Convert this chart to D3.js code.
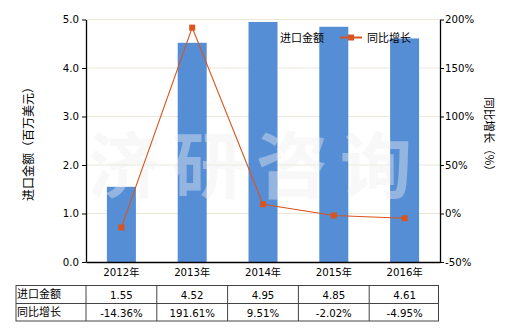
<!DOCTYPE html>
<html><head><meta charset="utf-8">
<script src="https://cdn.jsdelivr.net/npm/d3@7"></script>
<style>
body{margin:0;background:#fff;}
text{font-family:"DejaVu Sans","Noto Sans CJK SC",sans-serif;}
</style></head>
<body><svg id="c" width="520" height="330"></svg>
<script>
const categories = ["2012年","2013年","2014年","2015年","2016年"];
const importValues = [1.55, 4.52, 4.95, 4.85, 4.61];
const growthValues = [-14.36, 191.61, 9.51, -2.02, -4.95];
const importLabels = ["1.55","4.52","4.95","4.85","4.61"];
const growthLabels = ["-14.36%","191.61%","9.51%","-2.02%","-4.95%"];
const leftTicks = [0,1,2,3,4,5];
const rightTicks = [-50,0,50,100,150,200];
const seriesNames = ["进口金额","同比增长"];

const svg = d3.select("#c");
const L = 86, R = 440, T = 19.5, B = 262;
const barColor = "#558ed5", lineColor = "#d9541e", gridColor = "#ebe8d8";
const fs = "10.2px";

const xc = d3.scaleBand().domain(categories).range([L, R]);
const yL = d3.scaleLinear().domain([0,5]).range([B, T]);
const yR = d3.scaleLinear().domain([-50,200]).range([B, T]);

// gridlines
svg.append("g").selectAll("line").data(leftTicks.slice(1)).join("line")
  .attr("x1", L).attr("x2", R).attr("y1", d=>yL(d)).attr("y2", d=>yL(d))
  .attr("stroke", gridColor).attr("stroke-width", 1);

// bars
svg.append("g").selectAll("rect").data(importValues).join("rect")
  .attr("x", (d,i)=>xc(categories[i]) + xc.bandwidth()/2 - 14.5)
  .attr("width", 29)
  .attr("y", d=>yL(d)).attr("height", d=>B - yL(d))
  .attr("fill", barColor);

// watermark
svg.append("text").text("济研咨询")
  .attr("x", 256).attr("y", 192).attr("text-anchor","middle")
  .attr("font-size", "72px").attr("font-weight","bold")
  .attr("letter-spacing", "12px")
  .style("font-family","'Noto Sans CJK SC'")
  .attr("fill", "#f0f0f0").attr("opacity", 0.4);

// line
const line = d3.line().x((d,i)=>xc(categories[i]) + xc.bandwidth()/2).y(d=>yR(d));
svg.append("path").datum(growthValues).attr("d", line)
  .attr("fill","none").attr("stroke", lineColor).attr("stroke-width", 1.1);
svg.append("g").selectAll("rect").data(growthValues).join("rect")
  .attr("x", (d,i)=>xc(categories[i]) + xc.bandwidth()/2 - 3)
  .attr("y", d=>yR(d) - 3).attr("width", 6).attr("height", 6)
  .attr("fill", lineColor);

// axes
const axL = d3.axisLeft(yL).tickValues(leftTicks).tickFormat(d3.format(".1f")).tickSize(4).tickSizeOuter(0);
const gL = svg.append("g").attr("transform", `translate(${L},0)`).call(axL);
const axR = d3.axisRight(yR).tickValues(rightTicks).tickFormat(d=>d+"%").tickSize(4).tickSizeOuter(0);
const gR = svg.append("g").attr("transform", `translate(${R},0)`).call(axR);
const axB = d3.axisBottom(xc).tickSize(0).tickSizeOuter(0);
const gB = svg.append("g").attr("transform", `translate(0,${B})`).call(axB);
[gL,gR,gB].forEach(g=>{
  g.selectAll("path.domain").attr("stroke","#000").attr("stroke-width",1.3);
  g.selectAll(".tick line").attr("stroke","#000");
  g.selectAll("text").attr("font-size", fs).attr("fill","#000")
    .style("font-family","'DejaVu Sans','Noto Sans CJK SC',sans-serif");
});
gL.selectAll("text").attr("x", -7);
gR.selectAll("text").attr("x", 5);
gB.selectAll("text").attr("dy", "1.05em");

// axis titles
svg.append("text").text("进口金额（百万美元）")
  .attr("transform", "translate(33,141) rotate(-90)")
  .attr("text-anchor","middle").attr("font-size","12px").style("font-family","'Noto Sans CJK SC'");
svg.append("text").text("同比增长（%）")
  .attr("transform", "translate(485,137) rotate(90)")
  .attr("text-anchor","middle").attr("font-size","11.5px").style("font-family","'Noto Sans CJK SC'");

// legend
svg.append("rect").attr("x", 265).attr("y", 33).attr("width", 10).attr("height", 9).attr("fill", barColor);
svg.append("text").text(seriesNames[0]).attr("x", 280).attr("y", 42)
  .attr("font-size","11px").style("font-family","'Noto Sans CJK SC'");
svg.append("line").attr("x1", 340).attr("x2", 362).attr("y1", 37.5).attr("y2", 37.5)
  .attr("stroke", lineColor).attr("stroke-width", 2);
svg.append("rect").attr("x", 348).attr("y", 34.5).attr("width", 6).attr("height", 6).attr("fill", lineColor);
svg.append("text").text(seriesNames[1]).attr("x", 367).attr("y", 42)
  .attr("font-size","11px").style("font-family","'Noto Sans CJK SC'");

// table
const tT = 285.5, tM = 303.5, tB = 321, tL = 16;
const tg = svg.append("g").attr("stroke", "#444").attr("stroke-width", 1);
const colEdges = [tL].concat(categories.map(c=>xc(c))).concat([xc(categories[4]) + xc.bandwidth() - 1.5]);
tg.append("rect").attr("x", tL).attr("y", tT).attr("width", colEdges[colEdges.length-1]-tL).attr("height", tB-tT).attr("fill","none");
tg.append("line").attr("x1", tL).attr("x2", colEdges[colEdges.length-1]).attr("y1", tM).attr("y2", tM);
tg.selectAll("line.v").data(colEdges.slice(1,-1)).join("line").attr("class","v")
  .attr("x1", d=>d).attr("x2", d=>d).attr("y1", tT).attr("y2", tB);
const rows = [[seriesNames[0], importLabels], [seriesNames[1], growthLabels]];
rows.forEach((r, ri)=>{
  const yy = (ri===0 ? tT : tM) + 13;
  svg.append("text").text(r[0]).attr("x", 17).attr("y", yy - 0.5)
    .attr("font-size","11px").style("font-family","'Noto Sans CJK SC'");
  svg.append("g").selectAll("text").data(r[1]).join("text")
    .attr("x", (d,i)=>xc(categories[i]) + xc.bandwidth()/2).attr("y", yy)
    .attr("text-anchor","middle").attr("font-size", fs).text(d=>d);
});
</script></body></html>
